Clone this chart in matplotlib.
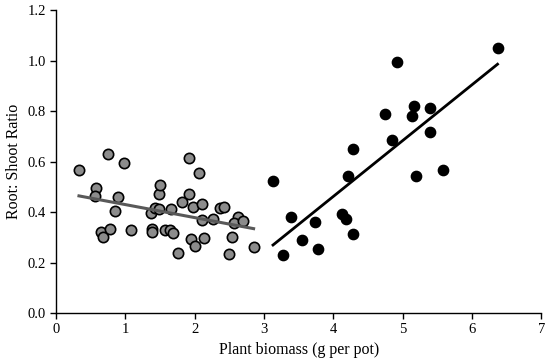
import numpy as np
import matplotlib
matplotlib.use("Agg")
import matplotlib.pyplot as plt

plt.rcParams['font.family'] = ['Liberation Serif', 'DejaVu Serif']

# low-biomass group (grey)
grey_x = [0.33, 0.755, 0.98, 0.577, 0.567, 0.90, 0.85, 0.65, 0.67, 0.775,
          1.08, 1.38, 1.38, 1.37, 1.43, 1.49, 1.49, 1.50, 1.66, 1.57,
          1.65, 1.68, 1.76, 1.82, 1.92, 1.92, 1.97, 2.06, 2.11, 2.11,
          1.95, 2.00, 2.13, 2.26, 2.37, 2.43, 2.62, 2.56, 2.70, 2.54,
          2.50, 2.85]
grey_y = [0.566, 0.628, 0.593, 0.496, 0.465, 0.46, 0.405, 0.321, 0.30, 0.331,
          0.327, 0.333, 0.322, 0.397, 0.415, 0.411, 0.471, 0.506, 0.411, 0.327,
          0.327, 0.315, 0.236, 0.44, 0.613, 0.471, 0.421, 0.556, 0.432, 0.368,
          0.293, 0.267, 0.298, 0.373, 0.417, 0.421, 0.381, 0.355, 0.364, 0.30,
          0.234, 0.263]

# high-biomass group (black)
black_x = [6.37, 4.92, 5.17, 5.39, 4.75, 5.13, 5.39, 4.84, 4.29, 4.21,
           5.20, 5.58, 3.13, 3.39, 3.73, 4.12, 4.19, 4.29, 3.55, 3.78, 3.28]
black_y = [1.048, 0.993, 0.821, 0.813, 0.788, 0.780, 0.716, 0.684, 0.648, 0.543,
           0.543, 0.566, 0.523, 0.38, 0.36, 0.393, 0.372, 0.313, 0.29, 0.255, 0.23]

x_ticks = [0, 1, 2, 3, 4, 5, 6, 7]
y_ticks = [0.0, 0.2, 0.4, 0.6, 0.8, 1.0, 1.2]


def trend(xs, ys):
    xs = np.asarray(xs)
    k, b = np.polyfit(xs, ys, 1)
    xl = np.array([xs.min(), xs.max()])
    return xl, k * xl + b


fig = plt.figure(figsize=(5.5, 3.64), dpi=100)
ax = fig.add_axes([0.102, 0.140, 0.882, 0.8325])

ax.scatter(grey_x, grey_y, s=55, facecolor='#8c8c8c', edgecolor='black',
           linewidth=1.2, zorder=3)
ax.scatter(black_x, black_y, s=55, facecolor='black', edgecolor='black',
           linewidth=1.0, zorder=3)

gx, gy = trend(grey_x, grey_y)
ax.plot(gx, gy, color='#595959', linewidth=2.2, zorder=4)
bx, by = trend(black_x, black_y)
ax.plot(bx, by, color='black', linewidth=2.0, zorder=4)

ax.set_xlim(0, 7)
ax.set_ylim(0, 1.2)
ax.set_xticks(x_ticks)
ax.set_yticks(y_ticks)
ax.set_yticklabels([f"{v:.1f}" for v in y_ticks])
ax.tick_params(direction='out', length=4, width=1, labelsize=10.5)
for side in ['top', 'right']:
    ax.spines[side].set_visible(False)
for side in ['left', 'bottom']:
    ax.spines[side].set_linewidth(1.0)

ax.set_xlabel('Plant biomass (g per pot)', fontsize=11.5)
ax.set_ylabel('Root: Shoot Ratio', fontsize=11.5)

fig.savefig('out.png', dpi=100)
